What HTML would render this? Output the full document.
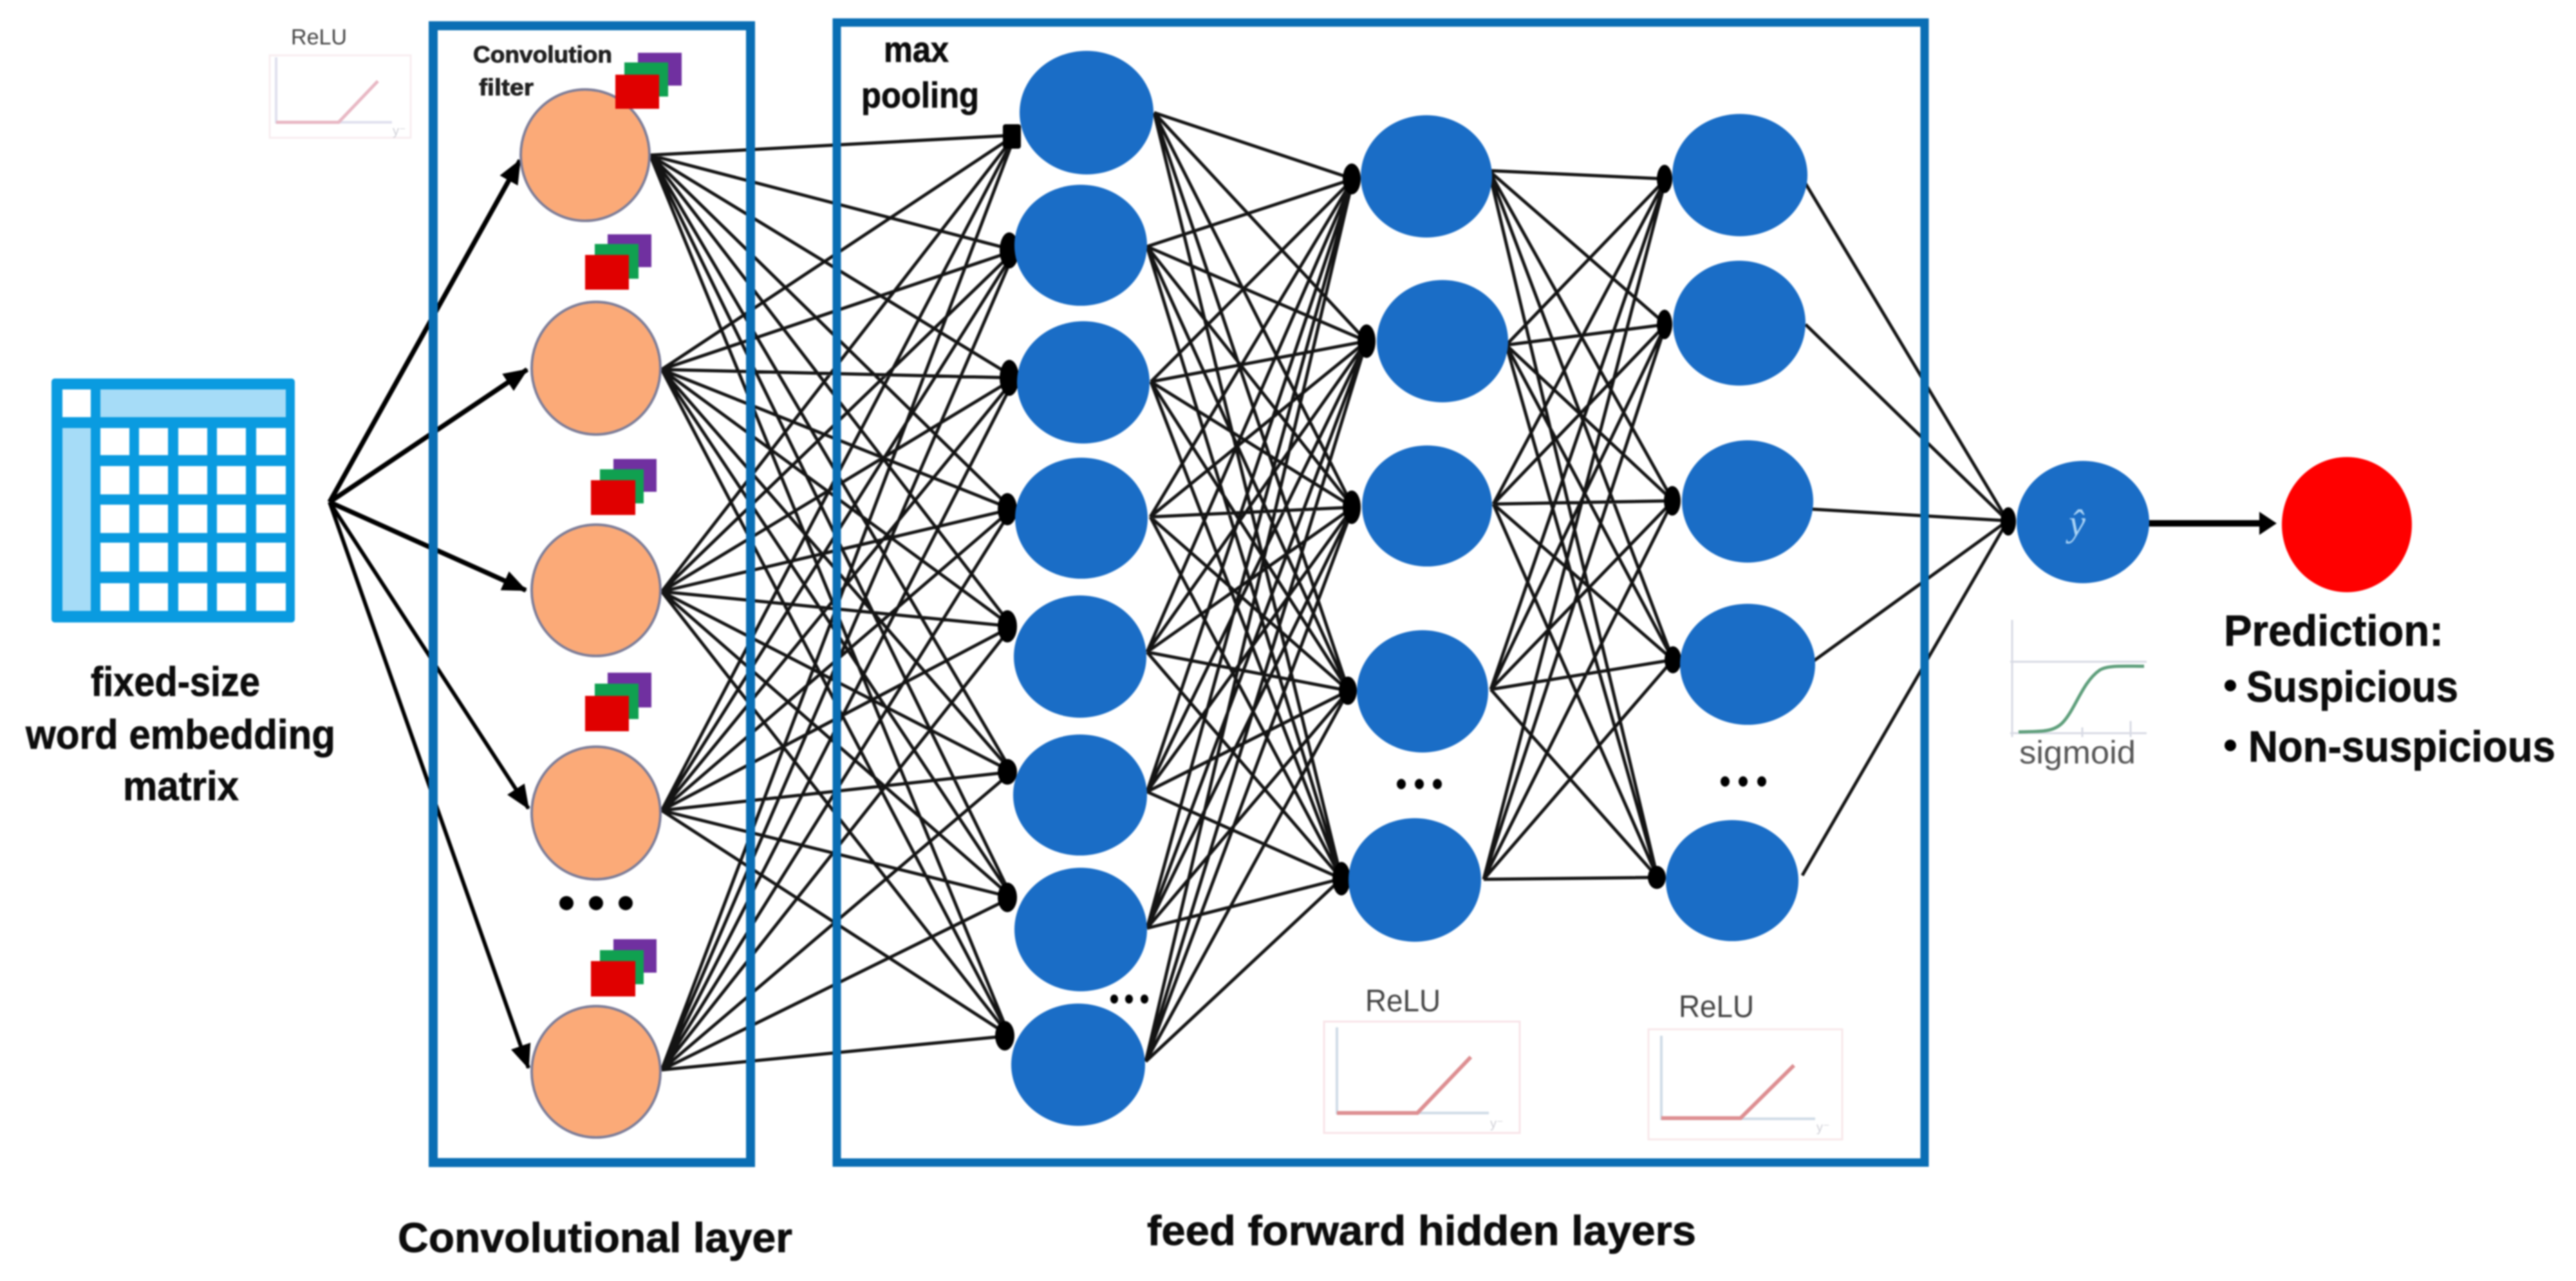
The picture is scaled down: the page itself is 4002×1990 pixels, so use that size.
<!DOCTYPE html>
<html><head><meta charset="utf-8"><title>CNN diagram</title>
<style>
html,body{margin:0;padding:0;background:#fff;width:4002px;height:1990px;overflow:hidden}
svg{display:block;filter:blur(1.3px)}
text{font-family:"Liberation Sans",sans-serif}
.b{font-weight:bold;fill:#0c0c0c;stroke:#0c0c0c;stroke-width:.8px}
</style></head><body>
<svg xmlns="http://www.w3.org/2000/svg" width="4002" height="1990" viewBox="0 0 4002 1990">
<defs>
<marker id="a" markerUnits="userSpaceOnUse" markerWidth="42" markerHeight="36" refX="36" refY="18" orient="auto"><path d="M0 2L38 18L0 34z" fill="#000"/></marker>
</defs>
<rect width="4002" height="1990" fill="#fff"/>

<!-- table icon -->
<rect x="80" y="588" width="378" height="379" rx="5" fill="#0a9be0"/>
<rect x="97" y="605" width="44" height="43" fill="#fff"/>
<rect x="156" y="605" width="288" height="43" fill="#a6dcf7"/>
<rect x="97" y="665" width="44" height="284" fill="#a6dcf7"/>
<g fill="#fff">
<rect x="156" y="665" width="45" height="42"/><rect x="216" y="665" width="45" height="42"/><rect x="277" y="665" width="45" height="42"/><rect x="337" y="665" width="45" height="42"/><rect x="398" y="665" width="46" height="42"/>
<rect x="156" y="724" width="45" height="44"/><rect x="216" y="724" width="45" height="44"/><rect x="277" y="724" width="45" height="44"/><rect x="337" y="724" width="45" height="44"/><rect x="398" y="724" width="46" height="44"/>
<rect x="156" y="784" width="45" height="44"/><rect x="216" y="784" width="45" height="44"/><rect x="277" y="784" width="45" height="44"/><rect x="337" y="784" width="45" height="44"/><rect x="398" y="784" width="46" height="44"/>
<rect x="156" y="843" width="45" height="45"/><rect x="216" y="843" width="45" height="45"/><rect x="277" y="843" width="45" height="45"/><rect x="337" y="843" width="45" height="45"/><rect x="398" y="843" width="46" height="45"/>
<rect x="156" y="906" width="45" height="43"/><rect x="216" y="906" width="45" height="43"/><rect x="277" y="906" width="45" height="43"/><rect x="337" y="906" width="45" height="43"/><rect x="398" y="906" width="46" height="43"/>
</g>

<!-- input arrows -->
<g stroke="#000" fill="none">
<line x1="512" y1="780" x2="808" y2="249" stroke-width="7.5" marker-end="url(#a)"/>
<line x1="512" y1="780" x2="819" y2="574" stroke-width="7.5" marker-end="url(#a)"/>
<line x1="512" y1="780" x2="817" y2="917" stroke-width="7.5" marker-end="url(#a)"/>
<line x1="512" y1="780" x2="821" y2="1256" stroke-width="6" marker-end="url(#a)"/>
<line x1="512" y1="780" x2="821" y2="1659" stroke-width="6" marker-end="url(#a)"/>
</g>

<!-- network connections -->
<path fill="none" stroke="#141414" stroke-width="5" d="
M1010 241L1577 210M1010 241L1577 389M1010 241L1577 587M1010 241L1572 791M1010 241L1572 973M1010 241L1572 1199M1010 241L1572 1394M1010 241L1568 1609
M1028 574L1577 210M1028 574L1577 389M1028 574L1577 587M1028 574L1572 791M1028 574L1572 973M1028 574L1572 1199M1028 574L1572 1394M1028 574L1568 1609
M1028 919L1577 210M1028 919L1577 389M1028 919L1577 587M1028 919L1572 791M1028 919L1572 973M1028 919L1572 1199M1028 919L1572 1394M1028 919L1568 1609
M1028 1259L1577 210M1028 1259L1577 389M1028 1259L1577 587M1028 1259L1572 791M1028 1259L1572 973M1028 1259L1572 1199M1028 1259L1572 1394M1028 1259L1568 1609
M1028 1662L1577 210M1028 1662L1577 389M1028 1662L1577 587M1028 1662L1572 791M1028 1662L1572 973M1028 1662L1572 1199M1028 1662L1572 1394M1028 1662L1568 1609
M1793 175L2102 278M1793 175L2123 530M1793 175L2102 788M1793 175L2095 1073M1793 175L2084 1365
M1782 383L2102 278M1782 383L2123 530M1782 383L2102 788M1782 383L2095 1073M1782 383L2084 1365
M1788 593L2102 278M1788 593L2123 530M1788 593L2102 788M1788 593L2095 1073M1788 593L2084 1365
M1787 803L2102 278M1787 803L2123 530M1787 803L2102 788M1787 803L2095 1073M1787 803L2084 1365
M1782 1013L2102 278M1782 1013L2123 530M1782 1013L2102 788M1782 1013L2095 1073M1782 1013L2084 1365
M1782 1230L2102 278M1782 1230L2123 530M1782 1230L2102 788M1782 1230L2095 1073M1782 1230L2084 1365
M1782 1442L2102 278M1782 1442L2123 530M1782 1442L2102 788M1782 1442L2095 1073M1782 1442L2084 1365
M1780 1649L2102 278M1780 1649L2123 530M1780 1649L2102 788M1780 1649L2095 1073M1780 1649L2084 1365
M2313 265L2588 278M2313 265L2588 504M2313 265L2599 778M2313 265L2599 1025M2313 265L2575 1363
M2340 536L2588 278M2340 536L2588 504M2340 536L2599 778M2340 536L2599 1025M2340 536L2575 1363
M2320 783L2588 278M2320 783L2588 504M2320 783L2599 778M2320 783L2599 1025M2320 783L2575 1363
M2316 1071L2588 278M2316 1071L2588 504M2316 1071L2599 778M2316 1071L2599 1025M2316 1071L2575 1363
M2305 1366L2588 278M2305 1366L2588 504M2305 1366L2599 778M2305 1366L2599 1025M2305 1366L2575 1363
M2805 285L3119 809M2805 504L3119 809M2816 791L3119 809M2816 1028L3119 809M2800 1360L3119 809"/>

<!-- arrowhead clusters -->
<g fill="#000">
<rect x="1558" y="193" width="28" height="38" rx="4"/>
<ellipse cx="1568" cy="389" rx="15" ry="28"/><ellipse cx="1568" cy="587" rx="15" ry="28"/><ellipse cx="1565" cy="791" rx="15" ry="25"/><ellipse cx="1565" cy="973" rx="15" ry="25"/><ellipse cx="1565" cy="1199" rx="15" ry="20"/><ellipse cx="1565" cy="1394" rx="15" ry="23"/><ellipse cx="1561" cy="1609" rx="15" ry="23"/>
<ellipse cx="2100" cy="278" rx="14" ry="24"/><ellipse cx="2123" cy="530" rx="14" ry="26"/><ellipse cx="2100" cy="788" rx="14" ry="26"/><ellipse cx="2094" cy="1073" rx="14" ry="22"/><ellipse cx="2084" cy="1365" rx="14" ry="26"/>
<ellipse cx="2586" cy="278" rx="12" ry="22"/><ellipse cx="2586" cy="504" rx="12" ry="23"/><ellipse cx="2598" cy="778" rx="13" ry="23"/><ellipse cx="2599" cy="1025" rx="13" ry="21"/><ellipse cx="2574" cy="1363" rx="14" ry="18"/>
<ellipse cx="3120" cy="810" rx="12" ry="22"/>
</g>

<!-- output arrow -->
<line x1="3335" y1="813" x2="3520" y2="813" stroke="#000" stroke-width="10"/>
<path d="M3510 795L3537 813L3510 831z" fill="#000"/>

<!-- boxes -->
<rect x="673" y="40" width="493" height="1766" fill="none" stroke="#0a6eb4" stroke-width="14"/>
<rect x="1300" y="35" width="1690" height="1771" fill="none" stroke="#0a6eb4" stroke-width="13"/>

<!-- orange nodes -->
<g fill="#fbaa78" stroke="#7d7d98" stroke-width="4">
<ellipse cx="909" cy="241" rx="100" ry="102"/>
<ellipse cx="926" cy="572" rx="100" ry="103"/>
<ellipse cx="926" cy="917" rx="100" ry="102"/>
<ellipse cx="926" cy="1263" rx="100" ry="103"/>
<ellipse cx="926" cy="1665" rx="100" ry="102"/>
</g>

<!-- filter stacks -->
<g>
<rect x="991" y="82" width="68" height="51" fill="#7030a0"/><rect x="970" y="97" width="68" height="53" fill="#10a050"/><rect x="956" y="116" width="68" height="53" fill="#e00000"/>
<rect x="944" y="364" width="68" height="51" fill="#7030a0"/><rect x="924" y="379" width="68" height="54" fill="#10a050"/><rect x="909" y="396" width="68" height="54" fill="#e00000"/>
<rect x="953" y="713" width="67" height="51" fill="#7030a0"/><rect x="932" y="729" width="68" height="53" fill="#10a050"/><rect x="918" y="746" width="69" height="54" fill="#e00000"/>
<rect x="944" y="1045" width="68" height="54" fill="#7030a0"/><rect x="924" y="1062" width="68" height="55" fill="#10a050"/><rect x="909" y="1081" width="68" height="55" fill="#e00000"/>
<rect x="953" y="1459" width="67" height="52" fill="#7030a0"/><rect x="932" y="1476" width="68" height="53" fill="#10a050"/><rect x="918" y="1493" width="69" height="55" fill="#e00000"/>
</g>

<!-- blue nodes -->
<g fill="#1a6dc6">
<ellipse cx="1688" cy="175" rx="104" ry="96"/><ellipse cx="1679" cy="381" rx="103" ry="94"/><ellipse cx="1683" cy="594" rx="103" ry="95"/><ellipse cx="1680" cy="805" rx="103" ry="94"/><ellipse cx="1678" cy="1020" rx="103" ry="95"/><ellipse cx="1678" cy="1235" rx="104" ry="94"/><ellipse cx="1679" cy="1444" rx="103" ry="96"/><ellipse cx="1675" cy="1654" rx="104" ry="95"/>
<ellipse cx="2216" cy="274" rx="102" ry="95"/><ellipse cx="2241" cy="530" rx="102" ry="95"/><ellipse cx="2217" cy="786" rx="101" ry="94"/><ellipse cx="2210" cy="1074" rx="102" ry="95"/><ellipse cx="2198" cy="1367" rx="103" ry="96"/>
<ellipse cx="2703" cy="272" rx="105" ry="95"/><ellipse cx="2702" cy="502" rx="103" ry="97"/><ellipse cx="2715" cy="779" rx="102" ry="95"/><ellipse cx="2715" cy="1032" rx="105" ry="94"/><ellipse cx="2691" cy="1368" rx="103" ry="94"/>
<ellipse cx="3236" cy="811" rx="103" ry="95"/>
</g>
<ellipse cx="3646" cy="815" rx="101" ry="105" fill="#ff0000"/>
<text x="3227" y="832" font-size="58" font-style="italic" text-anchor="middle" fill="#a9d3f5" style="font-family:'Liberation Serif',serif">ŷ</text>

<!-- dots -->
<g fill="#000">
<circle cx="880" cy="1403" r="11"/><circle cx="926" cy="1403" r="11"/><circle cx="972" cy="1403" r="11"/>
<ellipse cx="1731" cy="1552" rx="6" ry="7"/><ellipse cx="1754" cy="1552" rx="6" ry="7"/><ellipse cx="1778" cy="1552" rx="6" ry="7"/>
<ellipse cx="2177" cy="1218" rx="7" ry="8"/><ellipse cx="2205" cy="1218" rx="7" ry="8"/><ellipse cx="2233" cy="1218" rx="7" ry="8"/>
<ellipse cx="2680" cy="1214" rx="7" ry="8"/><ellipse cx="2708" cy="1214" rx="7" ry="8"/><ellipse cx="2737" cy="1214" rx="7" ry="8"/>
</g>

<!-- ReLU plots -->
<g fill="none">
<rect x="419" y="86" width="219" height="128" stroke="#f8eef0" stroke-width="3"/>
<path d="M429 89V190H609" stroke="#dfe0ee" stroke-width="4"/>
<path d="M429 190H526L587 126" stroke="#e8b8c4" stroke-width="5"/>
<rect x="2057" y="1587" width="304" height="173" stroke="#f8e4e8" stroke-width="3"/>
<path d="M2077 1596V1729H2313" stroke="#cfdbe6" stroke-width="4"/>
<path d="M2077 1729H2202L2285 1642" stroke="#dd8f92" stroke-width="6"/>
<rect x="2561" y="1599" width="301" height="171" stroke="#f8e8ea" stroke-width="3"/>
<path d="M2581 1609V1738H2820" stroke="#cfdbe6" stroke-width="4"/>
<path d="M2581 1737H2704L2787 1655" stroke="#dd8f92" stroke-width="6"/>
</g>
<g fill="#cfcfd6" font-size="20">
<text x="610" y="210">y⁻</text><text x="2315" y="1752">y⁻</text><text x="2822" y="1758">y⁻</text>
</g>
<!-- sigmoid plot -->
<g fill="none">
<path d="M3126 963V1145M3123 1028H3335M3123 1139H3335M3310 1120V1145M3235 1130V1145" stroke="#d8dae4" stroke-width="3"/>
<path d="M3136 1137C3170 1136 3190 1138 3205 1122C3225 1100 3235 1060 3262 1041C3275 1033 3300 1035 3331 1035" stroke="#5f9f7c" stroke-width="5"/>
</g>

<!-- labels -->
<text class="b" x="141" y="1081" font-size="64" textLength="263" lengthAdjust="spacingAndGlyphs">fixed-size</text>
<text class="b" x="40" y="1163" font-size="64" textLength="481" lengthAdjust="spacingAndGlyphs">word embedding</text>
<text class="b" x="191" y="1243" font-size="64" textLength="180" lengthAdjust="spacingAndGlyphs">matrix</text>
<text class="b" x="618" y="1945" font-size="65" textLength="613" lengthAdjust="spacingAndGlyphs">Convolutional layer</text>
<text class="b" x="1782" y="1934" font-size="65" textLength="853" lengthAdjust="spacingAndGlyphs">feed forward hidden layers</text>
<text class="b" x="1373" y="96" font-size="56" textLength="101" lengthAdjust="spacingAndGlyphs">max</text>
<text class="b" x="1338" y="167" font-size="56" textLength="183" lengthAdjust="spacingAndGlyphs">pooling</text>
<text class="b" x="735" y="97" font-size="36" textLength="216" lengthAdjust="spacingAndGlyphs" style="fill:#222">Convolution</text>
<text class="b" x="744" y="148" font-size="36" textLength="85" lengthAdjust="spacingAndGlyphs" style="fill:#222">filter</text>
<text x="452" y="69" font-size="34" textLength="87" lengthAdjust="spacingAndGlyphs" fill="#444">ReLU</text>
<text x="2121" y="1571" font-size="48" textLength="117" lengthAdjust="spacingAndGlyphs" fill="#444">ReLU</text>
<text x="2608" y="1580" font-size="48" textLength="117" lengthAdjust="spacingAndGlyphs" fill="#444">ReLU</text>
<text x="3137" y="1186" font-size="50" textLength="181" lengthAdjust="spacingAndGlyphs" fill="#555">sigmoid</text>
<text class="b" x="3455" y="1003" font-size="68" textLength="341" lengthAdjust="spacingAndGlyphs">Prediction:</text>
<circle cx="3465" cy="1065" r="9" fill="#000"/>
<text class="b" x="3490" y="1090" font-size="68" textLength="329" lengthAdjust="spacingAndGlyphs">Suspicious</text>
<circle cx="3465" cy="1158" r="9" fill="#000"/>
<text class="b" x="3493" y="1183" font-size="68" textLength="477" lengthAdjust="spacingAndGlyphs">Non-suspicious</text>
</svg>
</body></html>
